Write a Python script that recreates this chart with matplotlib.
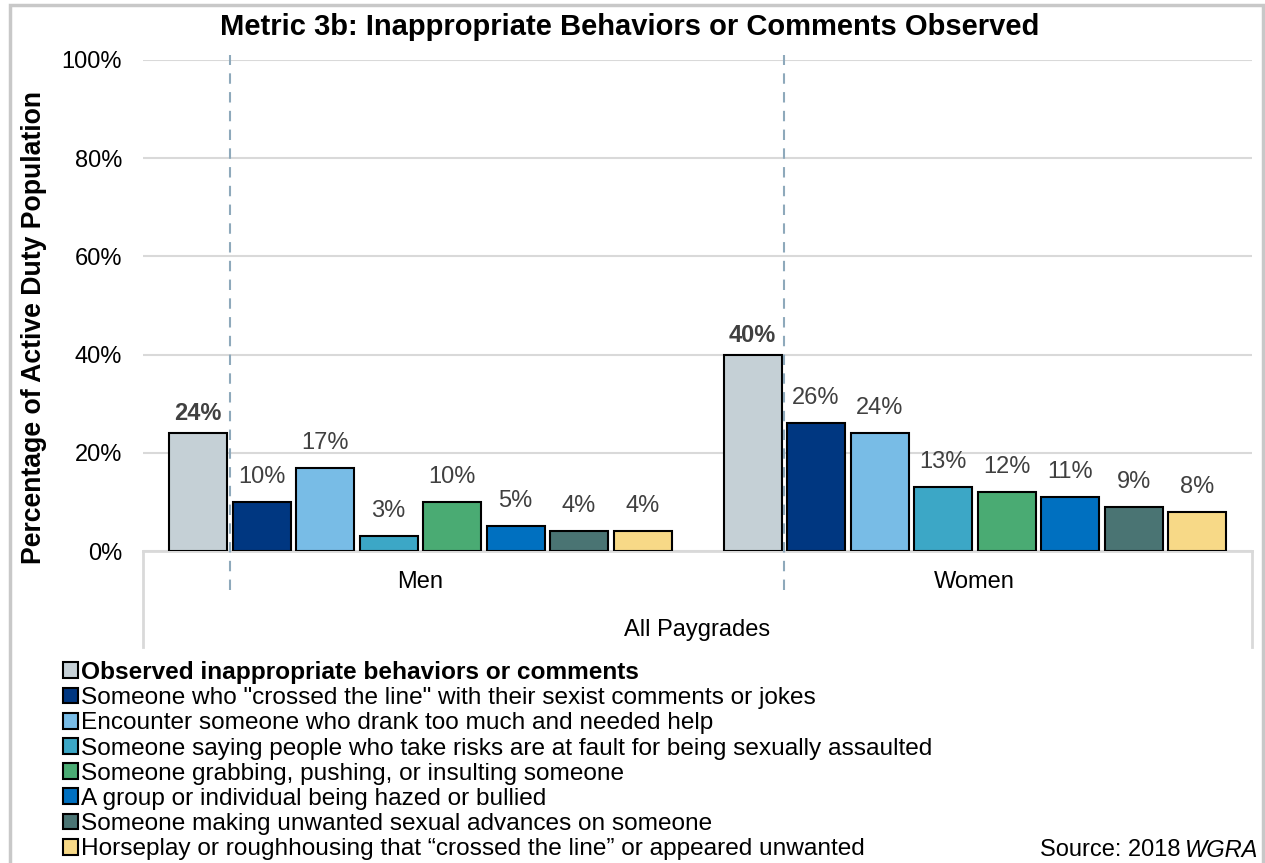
import numpy as np
import matplotlib
matplotlib.use("Agg")
import matplotlib.pyplot as plt
from matplotlib.patches import Rectangle

plt.rcParams['font.family'] = ['Liberation Sans', 'DejaVu Sans']

groups = ["Men", "Women"]
series = [
    "Observed inappropriate behaviors or comments",
    "Someone who \"crossed the line\" with their sexist comments or jokes",
    "Encounter someone who drank too much and needed help",
    "Someone saying people who take risks are at fault for being sexually assaulted",
    "Someone grabbing, pushing, or insulting someone",
    "A group or individual being hazed or bullied",
    "Someone making unwanted sexual advances on someone",
    "Horseplay or roughhousing that \u201ccrossed the line\u201d or appeared unwanted",
]
men = [24, 10, 17, 3, 10, 5, 4, 4]
women = [40, 26, 24, 13, 12, 11, 9, 8]
colors = ["#c5d0d6", "#003781", "#78bce6", "#3ca7c6", "#4aab73", "#0070c0", "#4a7473", "#f7d987"]
yticks = [0, 20, 40, 60, 80, 100]

W, H = 1265, 863
fig = plt.figure(figsize=(W / 100, H / 100), dpi=100)
ax = fig.add_axes([143 / W, 1 - 551 / H, (1252 - 143) / W, (551 - 60) / H])

pitch = 63.5 / 554.5
width = 58 / 554.5
gx = np.arange(len(groups))
handles = []
for i, name in enumerate(series):
    vals = np.array([men[i], women[i]])
    xs = gx + (i - 3.5) * pitch
    b = ax.bar(xs, vals, width=width, color=colors[i], edgecolor="black", linewidth=1.5, zorder=3)
    handles.append(b)
    for x, v in zip(xs, vals):
        if i == 0:
            ax.annotate(f"{v}%", (x, v), xytext=(0, 14), textcoords="offset points",
                        ha="center", va="center", fontsize=17, fontweight="bold", color="#404040")
        else:
            ax.annotate(f"{v}%", (x, v), xytext=(0, 18), textcoords="offset points",
                        ha="center", va="center", fontsize=17, color="#404040")

# dashed separators after first bar in each group
for g in gx:
    xd = g - 3 * pitch
    ax.plot([xd, xd], [-8, 101], transform=ax.transData, color="#8ea9bb", lw=1.5,
            ls=(0, (5, 4)), clip_on=False, zorder=4)

ax.set_xlim(-0.5, 1.5)
ax.set_ylim(0, 100)
ax.set_yticks(yticks)
ax.set_yticklabels([f"{t}%" for t in yticks], fontsize=17)
ax.tick_params(axis="y", length=0, pad=15)
ax.set_xticks([])
ax.grid(axis="y", color="#d9d9d9", lw=1.5, zorder=0)
for s in ["top", "right", "left"]:
    ax.spines[s].set_visible(False)
ax.spines["bottom"].set_color("#d9d9d9")
ax.spines["bottom"].set_linewidth(2)

# category axis box
for xa in [0, 1]:
    ax.plot([xa, xa], [0, -96 / 491], transform=ax.transAxes, color="#d9d9d9", lw=2, clip_on=False)
trans = ax.get_xaxis_transform()
for g, name in zip(gx, groups):
    ax.text(g, -31 / 491, name, transform=trans, ha="center", va="center", fontsize=17)
ax.text(0.5, -79 / 491, "All Paygrades", transform=ax.transAxes, ha="center", va="center", fontsize=17)

fig.text(630 / W, 1 - 27 / H, "Metric 3b: Inappropriate Behaviors or Comments Observed",
         ha="center", va="center", fontsize=21, fontweight="bold")
fig.text(34 / W, 1 - 328 / H, "Percentage of Active Duty Population", rotation=90,
         ha="center", va="center", fontsize=19.2, fontweight="bold")

leg = fig.legend([h[0] for h in handles], series, loc="upper left",
                 bbox_to_anchor=(63 / W, 1 - 661 / H), frameon=False, fontsize=17.6,
                 handlelength=0.62, handleheight=0.62, handletextpad=0.12,
                 labelspacing=0.13, borderpad=0, borderaxespad=0)
leg.get_texts()[0].set_fontweight("bold")

# source note
t2 = fig.text(1258 / W, 1 - 850 / H, "WGRA", ha="right", va="center", fontsize=17, style="italic")
r = fig.canvas.get_renderer()
bb = t2.get_window_extent(r)
fig.text(bb.x0 / W - 4 / W, 1 - 850 / H, "Source: 2018", ha="right", va="center", fontsize=17)

# outer frame
fig.patches.append(Rectangle((10 / W, -0.02), 1253 / W, 1 - 5 / H + 0.02, transform=fig.transFigure,
                             fill=False, edgecolor="#c8c8c8", lw=2.5))

fig.savefig("out.png", dpi=100)
